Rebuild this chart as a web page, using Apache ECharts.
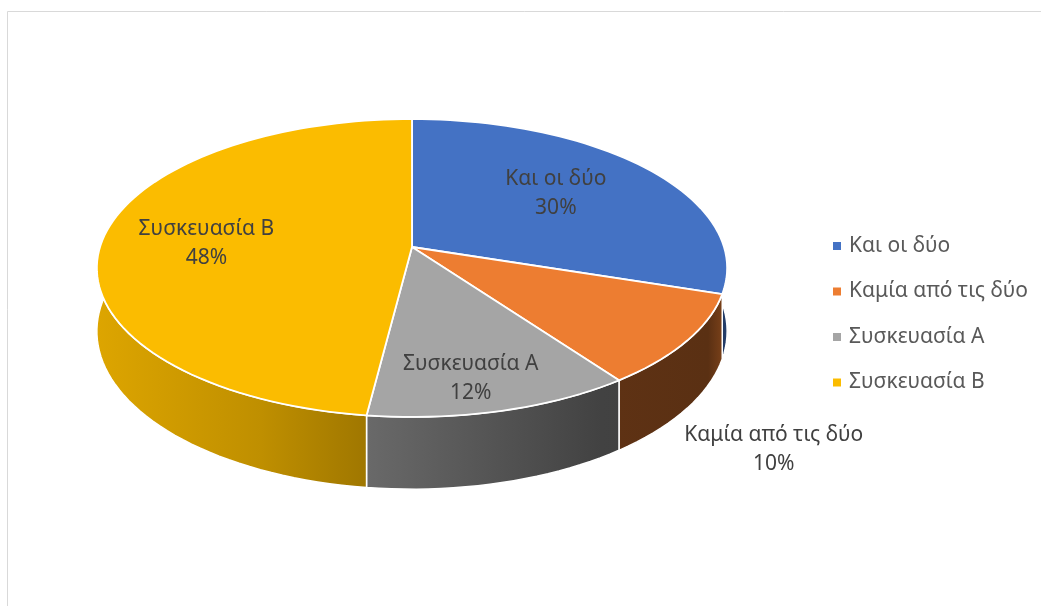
<!DOCTYPE html>
<html>
<head>
<meta charset="utf-8">
<style>
  html, body { margin: 0; padding: 0; background: #ffffff; }
  #chart { width: 1041px; height: 606px; }
</style>
<script src="https://cdn.jsdelivr.net/npm/echarts@6/dist/echarts.min.js"></script>
</head>
<body>
<div id="chart"></div>
<script>
// Slice names and shares (percent)
const categories = ['Και οι δύο', 'Καμία από τις δύο', 'Συσκευασία Α', 'Συσκευασία Β'];
const values = [30, 10, 12, 48];

// Face colours of each slice
const colors = ['#4472C4', '#ED7D31', '#A5A5A5', '#FBBC00'];

// Tilted-disc projection of the pie (screen pixels)
const view = {
  cx: 412, cy: 247,   // projected centre of the top face
  sx: 312, sy: 146,   // horizontal / vertical radii
  k: 0.141,           // perspective strength
  depth: 62,          // thickness of the disc
  steps: 90
};

// Where each slice's label sits: fraction of the radius at the mid angle
const labelPlacement = [
  { r: 0.62, dx: -5, dy: -3 },
  { r: 1.3, bottom: true, dx: -6, dy: 8 },
  { r: 0.81, dx: -12, dy: 3 },
  { r: 0.7, dx: 11, dy: 3 }
];

const total = values.reduce((a, b) => a + b, 0);
const FONT = '"Noto Sans", sans-serif';

function project(u, v, h) {
  const w = 1 - view.k * v;
  return [view.cx + view.sx * u / w, view.cy + (view.sy * v + h) / w];
}
function rimPoint(theta, r, h) {
  return project(r * Math.sin(theta), -r * Math.cos(theta), h);
}
function shade(hex, f) {
  const n = parseInt(hex.slice(1), 16);
  const c = [(n >> 16) & 255, (n >> 8) & 255, n & 255].map(x => Math.round(x * f));
  return 'rgb(' + c.join(',') + ')';
}
// Side-wall lighting: bright on the left, dark towards the right
const wallLight = [[0, 0.88], [0.26, 0.76], [0.42, 0.64], [0.8, 0.40], [0.97, 0.38], [1, 0.55]];
function wallFill(hex) {
  return {
    type: 'linear', global: true, x: 97, y: 0, x2: 727, y2: 0,
    colorStops: wallLight.map(s => ({ offset: s[0], color: shade(hex, s[1]) }))
  };
}

function renderSlice(params, api) {
  const i = params.seriesIndex;
  let before = 0;
  for (let j = 0; j < i; j++) before += values[j];
  const a0 = before / total * Math.PI * 2;
  const a1 = (before + api.value(0)) / total * Math.PI * 2;
  const n = Math.max(2, Math.ceil(view.steps * (a1 - a0) / Math.PI));
  const top = [], bottom = [];
  for (let s = 0; s <= n; s++) {
    const t = a0 + (a1 - a0) * s / n;
    top.push(rimPoint(t, 1, 0));
    bottom.push(rimPoint(t, 1, view.depth));
  }
  const centre = project(0, 0, 0);
  const wall = top.concat(bottom.slice().reverse());
  const face = [centre].concat(top);

  const lp = labelPlacement[i];
  const mid = (a0 + a1) / 2;
  const at = rimPoint(mid, lp.r, lp.bottom ? view.depth : 0);
  const pct = Math.round(api.value(0) / total * 100) + '%';

  return {
    type: 'group',
    children: [
      {
        type: 'polygon', z2: 1,
        shape: { points: wall },
        style: { fill: wallFill(colors[i]), stroke: '#ffffff', lineWidth: 1.5, lineJoin: 'round' }
      },
      {
        type: 'polygon', z2: 10,
        shape: { points: face },
        style: { fill: colors[i], stroke: '#ffffff', lineWidth: 1.8, lineJoin: 'round' }
      },
      {
        type: 'text', z2: 20,
        x: at[0] + (lp.dx || 0), y: at[1] + (lp.dy || 0),
        style: {
          text: categories[i] + '\n' + pct,
          fill: '#404040',
          fontSize: 21,
          fontFamily: FONT,
          lineHeight: 29,
          align: 'center',
          verticalAlign: 'middle'
        }
      }
    ]
  };
}

const chart = echarts.init(document.getElementById('chart'), null, { renderer: 'canvas' });

chart.setOption({
  animation: false,
  backgroundColor: '#ffffff',
  color: colors,
  graphic: [{
    type: 'rect', silent: true, z: -1,
    shape: { x: 7.5, y: 11.5, width: 1200, height: 800 },
    style: { fill: 'none', stroke: '#d9d9d9', lineWidth: 1 }
  }],
  legend: {
    orient: 'vertical',
    left: 828,
    top: 230,
    icon: 'rect',
    itemWidth: 8,
    itemHeight: 8,
    itemGap: 23.5,
    selectedMode: false,
    data: categories,
    textStyle: {
      color: '#595959',
      fontSize: 21,
      fontFamily: FONT,
      lineHeight: 22,
      padding: [0, 0, 0, 3]
    }
  },
  series: categories.map((name, i) => ({
    type: 'custom',
    name: name,
    coordinateSystem: 'none',
    renderItem: renderSlice,
    data: [values[i]],
    itemStyle: { color: colors[i] }
  }))
});
</script>
</body>
</html>
